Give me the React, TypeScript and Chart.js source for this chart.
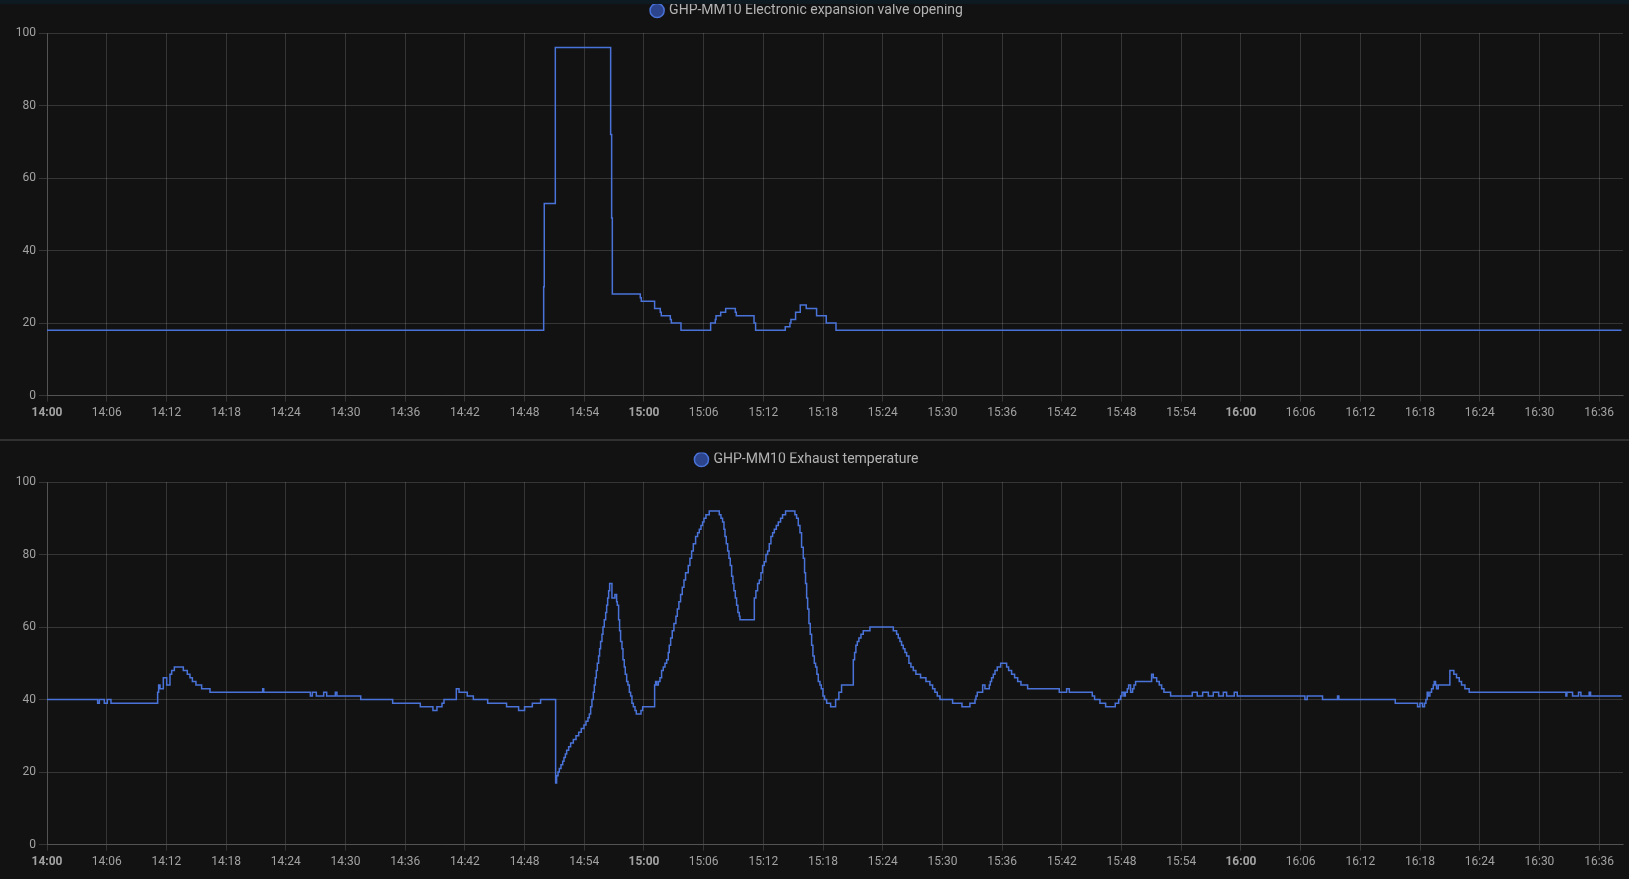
import React, { useEffect, useRef } from 'react';
import { Chart, registerables } from 'chart.js';

Chart.register(...registerables);

// ---- data (x = minutes after 14:00) ----
const START_HOUR = 14;
const X_MAX_MIN = 158.4;
const X_STEP_MIN = 6;
const Y_MIN = 0;
const Y_MAX = 100;
const Y_STEP = 20;

const valveLabel = 'GHP-MM10 Electronic expansion valve opening';
const valveTimes = [
  0, 49.92, 49.98, 51.09, 56.65, 56.75, 56.82, 59.63, 59.73, 61.07,
  61.64, 61.74, 62.65, 62.75, 63.72, 66.7, 67.17, 67.24, 67.71, 68.21,
  69.18, 69.28, 71.06, 71.22, 74.2, 74.67, 74.77, 75.24, 75.71, 76.31,
  77.35, 78.32, 79.3, 158.25,
];
const valveValues = [
  18, 30, 53, 96, 72, 49, 28, 27, 26, 24,
  23, 22, 21, 20, 18, 20, 21, 22, 23, 24,
  23, 22, 20, 18, 19, 20, 21, 23, 25, 24,
  22, 20, 18, 18,
];

const exhaustLabel = 'GHP-MM10 Exhaust temperature';
const exhaustTimes = [
  0, 5.09, 5.26, 5.76, 6.06, 6.43, 11.12, 11.22, 11.36, 11.69,
  12.03, 12.36, 12.53, 12.8, 13.7, 14.1, 14.37, 14.61, 14.97, 15.54,
  16.38, 21.68, 21.78, 26.47, 26.67, 27.07, 27.81, 28.11, 28.98, 29.14,
  31.53, 34.74, 37.52, 38.79, 39.19, 39.7, 39.9, 41.14, 41.41, 42.24,
  42.85, 44.29, 46.19, 47.4, 48.0, 48.78, 49.61, 51.12, 51.22, 51.36,
  51.49, 51.66, 51.83, 51.96, 52.1, 52.23, 52.43, 52.63, 52.9, 53.17,
  53.44, 53.7, 53.97, 54.17, 54.37, 54.51, 54.64, 54.77, 54.91, 55.01,
  55.11, 55.21, 55.31, 55.44, 55.54, 55.64, 55.78, 55.88, 56.01, 56.15,
  56.25, 56.35, 56.45, 56.55, 56.78, 57.08, 57.25, 57.32, 57.45, 57.55,
  57.65, 57.79, 57.89, 58.02, 58.12, 58.26, 58.39, 58.53, 58.66, 58.79,
  58.93, 59.1, 59.23, 59.7, 59.87, 61.07, 61.17, 61.27, 61.44, 61.61,
  61.77, 61.94, 62.11, 62.28, 62.44, 62.54, 62.68, 62.84, 63.01, 63.21,
  63.35, 63.51, 63.68, 63.85, 64.02, 64.18, 64.45, 64.62, 64.79, 64.96,
  65.19, 65.39, 65.56, 65.73, 65.89, 66.03, 66.23, 66.56, 67.57, 67.74,
  67.9, 68.04, 68.14, 68.27, 68.41, 68.54, 68.67, 68.81, 68.94, 69.04,
  69.18, 69.31, 69.44, 69.58, 69.65, 71.09, 71.25, 71.42, 71.59, 71.76,
  71.92, 72.09, 72.26, 72.43, 72.59, 72.76, 72.93, 73.1, 73.3, 73.5,
  73.73, 73.93, 74.23, 75.17, 75.34, 75.51, 75.68, 75.84, 76.01, 76.14,
  76.24, 76.35, 76.45, 76.58, 76.71, 76.85, 76.98, 77.12, 77.25, 77.38,
  77.52, 77.69, 77.82, 77.99, 78.15, 78.36, 78.76, 79.26, 79.59, 79.86,
  81.04, 81.17, 81.3, 81.44, 81.6, 81.81, 82.04, 82.71, 85.06, 85.39,
  85.56, 85.73, 85.89, 86.06, 86.23, 86.4, 86.63, 86.83, 87.07, 87.33,
  87.8, 88.34, 88.74, 89.01, 89.24, 89.48, 89.75, 91.02, 91.96, 92.76,
  93.27, 93.37, 93.5, 94.04, 94.27, 94.71, 94.81, 94.94, 95.11, 95.28,
  95.51, 95.85, 96.45, 96.65, 96.95, 97.25, 97.56, 97.89, 98.56, 101.74,
  102.48, 102.75, 105.06, 105.29, 105.83, 106.4, 107.37, 107.71, 107.91, 108.04,
  108.24, 108.38, 108.58, 108.71, 108.91, 109.11, 109.25, 109.41, 111.02, 111.19,
  111.53, 111.79, 112.03, 112.26, 112.93, 115.11, 115.61, 116.15, 116.72, 117.22,
  117.76, 118.23, 118.56, 119.33, 119.63, 126.43, 126.66, 128.2, 129.71, 129.84,
  135.51, 137.75, 137.99, 138.25, 138.45, 138.59, 138.72, 138.82, 138.99, 139.16,
  139.33, 139.43, 139.56, 139.66, 139.83, 141.0, 141.4, 141.67, 141.94, 142.17,
  142.51, 142.94, 152.66, 152.76, 153.33, 153.93, 154.17, 155.0, 155.14, 158.25,
];
const exhaustValues = [
  40, 39, 40, 39, 40, 39, 42, 44, 43, 46,
  44, 47, 48, 49, 48, 47, 46, 45, 44, 43,
  42, 43, 42, 41, 42, 41, 42, 41, 42, 41,
  40, 39, 38, 37, 38, 39, 40, 43, 42, 41,
  40, 39, 38, 37, 38, 39, 40, 17, 19, 20,
  21, 22, 23, 24, 25, 26, 27, 28, 29, 30,
  31, 32, 33, 34, 35, 36, 38, 40, 42, 44,
  46, 48, 50, 52, 54, 56, 58, 60, 62, 64,
  66, 68, 70, 72, 68, 69, 67, 66, 62, 59,
  56, 54, 51, 49, 47, 45, 44, 42, 41, 39,
  38, 37, 36, 37, 38, 44, 45, 44, 45, 46,
  48, 49, 50, 51, 53, 55, 57, 59, 61, 63,
  65, 67, 69, 71, 73, 75, 77, 79, 81, 83,
  85, 86, 87, 88, 89, 90, 91, 92, 91, 90,
  89, 87, 85, 83, 81, 79, 77, 74, 72, 70,
  68, 66, 64, 63, 62, 68, 70, 72, 73, 75,
  77, 78, 80, 81, 83, 85, 86, 87, 88, 89,
  90, 91, 92, 91, 90, 88, 86, 82, 79, 75,
  72, 68, 65, 61, 58, 55, 52, 50, 49, 47,
  45, 44, 43, 41, 40, 39, 38, 40, 42, 44,
  51, 53, 55, 56, 57, 58, 59, 60, 59, 58,
  57, 56, 55, 54, 53, 52, 50, 49, 48, 47,
  46, 45, 44, 43, 42, 41, 40, 39, 38, 39,
  40, 41, 42, 44, 43, 44, 45, 46, 47, 48,
  49, 50, 49, 48, 47, 46, 45, 44, 43, 42,
  43, 42, 41, 40, 39, 38, 39, 40, 41, 42,
  41, 42, 43, 44, 42, 43, 44, 45, 47, 46,
  45, 44, 43, 42, 41, 42, 41, 42, 41, 42,
  41, 42, 41, 42, 41, 40, 41, 40, 41, 40,
  39, 38, 39, 38, 39, 40, 42, 41, 42, 43,
  44, 45, 44, 43, 44, 48, 47, 46, 45, 44,
  43, 42, 41, 42, 41, 42, 41, 42, 41, 41,
];

// ---- styles ----
const BG = '#121212';
const LINE = '#4a73d9';
const LEGEND_FILL = '#2b448c';
const GRID = 'rgba(255,255,255,0.15)';
const TICK_COLOR = '#a2a2a2';
const LEGEND_COLOR = '#b3b3b3';
const FONT = 'Roboto, "Noto Sans", sans-serif';

function fmtTime(v: number) {
  const total = Math.round(v);
  const h = START_HOUR + Math.floor(total / 60);
  const m = total % 60;
  return `${h}:${m < 10 ? '0' : ''}${m}`;
}

function Panel({ label, times, values, top }: { label: string; times: number[]; values: number[]; top: number }) {
  const ref = useRef<HTMLCanvasElement>(null);
  useEffect(() => {
    const points = times.map((t, i) => ({ x: t, y: values[i] }));
    const chart = new Chart(ref.current!, {
      type: 'line',
      data: {
        datasets: [
          {
            label,
            data: points,
            xAxisID: 'x',
            yAxisID: 'y',
            borderColor: LINE,
            backgroundColor: LEGEND_FILL,
            borderWidth: 1.5,
            pointRadius: 0,
            pointStyle: 'circle',
            stepped: 'before',
            fill: false,
          },
        ],
      },
      options: {
        animation: false,
        responsive: true,
        maintainAspectRatio: false,
        layout: { padding: { top: 3.5, right: 6, bottom: 6, left: -8 } },
        plugins: {
          tooltip: { enabled: false },
          legend: {
            display: true,
            position: 'top',
            align: 'center',
            labels: {
              usePointStyle: true,
              boxWidth: 10,
              boxHeight: 10,
              padding: 0,
              color: LEGEND_COLOR,
              font: { family: FONT, size: 14 },
            },
          },
        },
        scales: {
          x: {
            type: 'linear',
            position: 'bottom',
            min: 0,
            max: X_MAX_MIN,
            ticks: {
              stepSize: X_STEP_MIN,
              includeBounds: false,
              autoSkip: false,
              maxRotation: 0,
              padding: 4,
              color: TICK_COLOR,
              font: (ctx: any) => ({
                family: FONT,
                size: 12,
                weight: ctx.tick && Math.round(ctx.tick.value) % 60 === 0 ? 'bold' : 'normal',
              }),
              callback: (v: any) => fmtTime(Number(v)),
            },
            grid: { color: GRID, tickLength: 6, drawTicks: true },
            border: { color: GRID },
          },
          xPad: {
            type: 'linear',
            position: 'top',
            display: true,
            ticks: { display: false },
            grid: { display: false, drawTicks: false },
            border: { display: false },
            afterFit: (s: any) => {
              s.height = 5.5;
            },
          },
          y: {
            type: 'linear',
            min: Y_MIN,
            max: Y_MAX,
            ticks: {
              stepSize: Y_STEP,
              padding: 3,
              color: TICK_COLOR,
              font: { family: FONT, size: 12 },
            },
            grid: { color: GRID, tickLength: 8 },
            border: { color: GRID },
            afterFit: (s: any) => {
              s.width = 55;
            },
          },
        },
      },
    });
    return () => chart.destroy();
  }, []);
  return (
    <div style={{ position: 'absolute', left: 0, top, width: 1629, height: 430 }}>
      <canvas ref={ref} />
    </div>
  );
}

export default function App() {
  useEffect(() => {
    document.body.style.margin = '0';
    document.body.style.background = BG;
  }, []);
  return (
    <div style={{ position: 'relative', width: 1629, height: 879, background: BG, overflow: 'hidden' }}>
      <Panel label={valveLabel} times={valveTimes} values={valveValues} top={0} />
      <div style={{ position: 'absolute', left: 0, top: 0, width: 1629, height: 3.5, background: '#0e1a22' }} />
      <div style={{ position: 'absolute', left: 0, top: 439, width: 1629, height: 2, background: '#303030' }} />
      <Panel label={exhaustLabel} times={exhaustTimes} values={exhaustValues} top={449} />
    </div>
  );
}
